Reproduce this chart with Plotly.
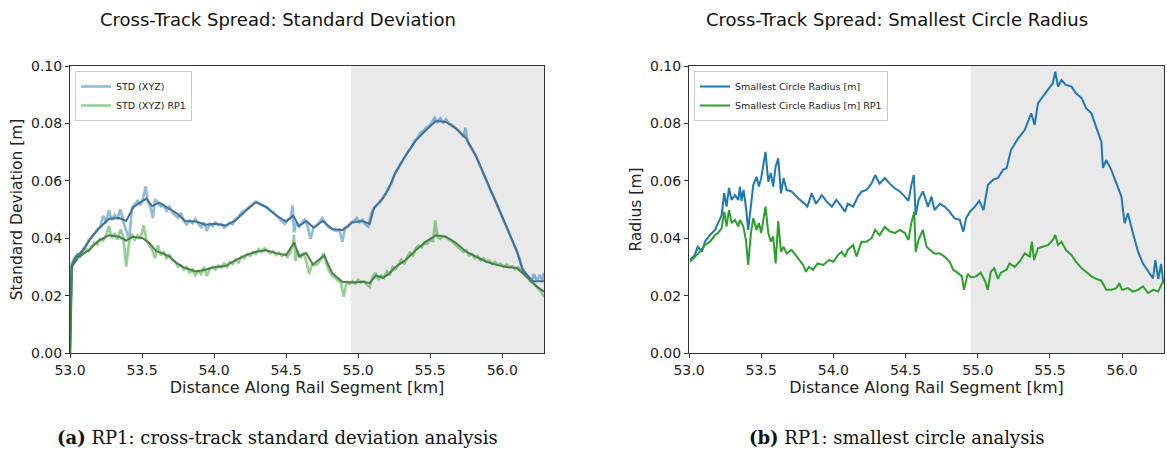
import plotly.graph_objects as go

# ---------------- DATA ----------------
# Left panel: raw cross-track standard deviation (light lines)
std_x = [53.0, 53.005, 53.012, 53.03, 53.05, 53.07, 53.09, 53.11, 53.13, 53.15, 53.17, 53.19, 53.21, 53.23, 53.25,
         53.27, 53.29, 53.31, 53.33, 53.35, 53.37, 53.39, 53.41, 53.43, 53.45, 53.47, 53.49, 53.51, 53.525, 53.54,
         53.56, 53.575, 53.59, 53.61, 53.63, 53.65, 53.67, 53.69, 53.71, 53.73, 53.75, 53.77, 53.79, 53.81, 53.83,
         53.85, 53.87, 53.89, 53.91, 53.93, 53.95, 53.97, 53.99, 54.01, 54.03, 54.05, 54.07, 54.09, 54.11, 54.13,
         54.15, 54.17, 54.19, 54.21, 54.23, 54.25, 54.27, 54.29, 54.31, 54.33, 54.35, 54.37, 54.39, 54.41, 54.43,
         54.45, 54.47, 54.49, 54.51, 54.53, 54.545, 54.555, 54.57, 54.59, 54.61, 54.63, 54.65, 54.67, 54.69, 54.71,
         54.73, 54.75, 54.77, 54.79, 54.81, 54.83, 54.85, 54.87, 54.89, 54.91, 54.93, 54.95, 54.97, 54.99, 55.01,
         55.03, 55.05, 55.07, 55.09, 55.11, 55.13, 55.15, 55.17, 55.19, 55.21, 55.23, 55.25, 55.27, 55.29, 55.31,
         55.33, 55.35, 55.37, 55.39, 55.41, 55.43, 55.45, 55.47, 55.49, 55.51, 55.53, 55.55, 55.57, 55.59, 55.61,
         55.63, 55.65, 55.67, 55.69, 55.71, 55.73, 55.745, 55.76, 55.78, 55.80, 55.82, 55.84, 55.86, 55.88, 55.90,
         55.92, 55.94, 55.96, 55.98, 56.00, 56.02, 56.04, 56.06, 56.08, 56.10, 56.12, 56.14, 56.16, 56.18, 56.20,
         56.22, 56.24, 56.26, 56.28, 56.29]
std_xyz = [0.0, 0.0210, 0.0310, 0.0330, 0.0345, 0.0338, 0.0362, 0.0372, 0.0395, 0.0400, 0.0418, 0.0432, 0.0440, 0.0478, 0.0452,
           0.0498, 0.0462, 0.0480, 0.0470, 0.0500, 0.0458, 0.0430, 0.0395, 0.0505, 0.0520, 0.0530, 0.0515, 0.0545, 0.0580, 0.0530,
           0.0505, 0.0470, 0.0535, 0.0525, 0.0510, 0.0515, 0.0495, 0.0510, 0.0490, 0.0480, 0.0472, 0.0488, 0.0460, 0.0448, 0.0462,
           0.0452, 0.0468, 0.0450, 0.0438, 0.0455, 0.0425, 0.0450, 0.0442, 0.0455, 0.0445, 0.0450, 0.0436, 0.0445, 0.0455, 0.0448,
           0.0468, 0.0475, 0.0490, 0.0495, 0.0505, 0.0512, 0.0520, 0.0528, 0.0522, 0.0515, 0.0510, 0.0505, 0.0495, 0.0490, 0.0480,
           0.0470, 0.0462, 0.0450, 0.0465, 0.0470, 0.0514, 0.0420, 0.0455, 0.0440, 0.0455, 0.0465, 0.0440, 0.0398, 0.0435, 0.0442,
           0.0455, 0.0470, 0.0455, 0.0440, 0.0435, 0.0428, 0.0425, 0.0430, 0.0388, 0.0435, 0.0440, 0.0455, 0.0460, 0.0470, 0.0455,
           0.0465, 0.0448, 0.0440, 0.0485, 0.0505, 0.0515, 0.0525, 0.0540, 0.0555, 0.0575, 0.0590, 0.0620, 0.0635, 0.0655, 0.0672,
           0.0690, 0.0705, 0.0718, 0.0738, 0.0748, 0.0765, 0.0772, 0.0785, 0.0790, 0.0802, 0.0820, 0.0805, 0.0818, 0.0802, 0.0815,
           0.0800, 0.0795, 0.0785, 0.0775, 0.0768, 0.0752, 0.0785, 0.0735, 0.0718, 0.0700, 0.0685, 0.0660, 0.0635, 0.0612, 0.0590,
           0.0565, 0.0545, 0.0520, 0.0500, 0.0475, 0.0450, 0.0428, 0.0405, 0.0380, 0.0358, 0.0330, 0.0295, 0.0270, 0.0262, 0.0245,
           0.0275, 0.0250, 0.0272, 0.0255, 0.0280]

std_rp1_x = [53.0, 53.005, 53.012, 53.03, 53.05, 53.07, 53.09, 53.11, 53.13, 53.15, 53.17, 53.19, 53.21, 53.23, 53.25,
             53.27, 53.29, 53.31, 53.33, 53.35, 53.37, 53.39, 53.41, 53.43, 53.45, 53.47, 53.49, 53.51, 53.53, 53.55,
             53.57, 53.59, 53.61, 53.63, 53.65, 53.67, 53.69, 53.71, 53.73, 53.75, 53.77, 53.79, 53.81, 53.83, 53.85,
             53.87, 53.89, 53.91, 53.93, 53.95, 53.97, 53.99, 54.01, 54.03, 54.05, 54.07, 54.09, 54.11, 54.13, 54.15,
             54.17, 54.19, 54.21, 54.23, 54.25, 54.27, 54.29, 54.31, 54.33, 54.35, 54.37, 54.39, 54.41, 54.43, 54.45,
             54.47, 54.49, 54.51, 54.53, 54.55, 54.555, 54.565, 54.58, 54.60, 54.62, 54.64, 54.66, 54.68, 54.70, 54.72,
             54.74, 54.76, 54.78, 54.80, 54.82, 54.84, 54.86, 54.88, 54.90, 54.92, 54.94, 54.96, 54.98, 55.00, 55.02,
             55.04, 55.06, 55.08, 55.10, 55.12, 55.14, 55.16, 55.18, 55.20, 55.22, 55.24, 55.26, 55.28, 55.30, 55.32,
             55.34, 55.36, 55.38, 55.40, 55.42, 55.44, 55.46, 55.48, 55.50, 55.52, 55.535, 55.55, 55.57, 55.59, 55.61,
             55.63, 55.65, 55.67, 55.69, 55.71, 55.73, 55.75, 55.77, 55.79, 55.81, 55.83, 55.85, 55.87, 55.89, 55.91,
             55.93, 55.95, 55.97, 55.99, 56.01, 56.03, 56.05, 56.07, 56.09, 56.11, 56.13, 56.15, 56.17, 56.19, 56.21,
             56.23, 56.25, 56.27, 56.29]
std_xyz_rp1 = [0.0, 0.0200, 0.0300, 0.0325, 0.0338, 0.0335, 0.0350, 0.0362, 0.0355, 0.0370, 0.0385, 0.0378, 0.0398, 0.0392, 0.0410,
               0.0442, 0.0400, 0.0418, 0.0395, 0.0430, 0.0405, 0.0300, 0.0385, 0.0415, 0.0395, 0.0410, 0.0398, 0.0445, 0.0395, 0.0375,
               0.0360, 0.0330, 0.0375, 0.0340, 0.0355, 0.0328, 0.0342, 0.0325, 0.0318, 0.0300, 0.0305, 0.0290, 0.0300, 0.0280, 0.0290,
               0.0270, 0.0285, 0.0275, 0.0300, 0.0268, 0.0295, 0.0300, 0.0290, 0.0305, 0.0298, 0.0312, 0.0300, 0.0318, 0.0310, 0.0325,
               0.0315, 0.0335, 0.0330, 0.0345, 0.0338, 0.0352, 0.0345, 0.0362, 0.0352, 0.0365, 0.0355, 0.0348, 0.0355, 0.0342, 0.0350,
               0.0338, 0.0345, 0.0335, 0.0350, 0.0385, 0.0412, 0.0320, 0.0355, 0.0330, 0.0350, 0.0320, 0.0275, 0.0310, 0.0305, 0.0312,
               0.0325, 0.0348, 0.0310, 0.0285, 0.0270, 0.0262, 0.0255, 0.0245, 0.0196, 0.0250, 0.0240, 0.0250, 0.0242, 0.0255, 0.0245,
               0.0250, 0.0238, 0.0230, 0.0265, 0.0280, 0.0255, 0.0270, 0.0262, 0.0285, 0.0275, 0.0300, 0.0292, 0.0310, 0.0325, 0.0310,
               0.0335, 0.0350, 0.0340, 0.0365, 0.0375, 0.0368, 0.0385, 0.0380, 0.0395, 0.0390, 0.0462, 0.0405, 0.0398, 0.0408, 0.0400,
               0.0395, 0.0390, 0.0378, 0.0370, 0.0362, 0.0352, 0.0358, 0.0340, 0.0345, 0.0330, 0.0338, 0.0322, 0.0330, 0.0318, 0.0322,
               0.0310, 0.0318, 0.0308, 0.0312, 0.0300, 0.0308, 0.0298, 0.0302, 0.0292, 0.0298, 0.0288, 0.0275, 0.0268, 0.0255, 0.0248,
               0.0238, 0.0225, 0.0215, 0.0195]

# Left panel: smoothed overlays (dark lines)
std_smooth_x = [53.0, 53.005, 53.012, 53.04, 53.09, 53.15, 53.20, 53.27, 53.34, 53.39, 53.44, 53.48, 53.53, 53.57, 53.62,
                53.67, 53.74, 53.80, 53.875, 53.94, 54.01, 54.08, 54.15, 54.22, 54.29, 54.36, 54.43, 54.50, 54.55, 54.59,
                54.64, 54.69, 54.755, 54.82, 54.89, 54.96, 55.03, 55.08, 55.11, 55.17, 55.21, 55.26, 55.33, 55.40, 55.47,
                55.54, 55.61, 55.68, 55.75, 55.82, 55.89, 55.96, 56.03, 56.10, 56.14, 56.21, 56.29]
std_smooth = [0.0, 0.0200, 0.0305, 0.0334, 0.0358, 0.0405, 0.0433, 0.0468, 0.0470, 0.0460, 0.0508, 0.0522, 0.0538, 0.0512, 0.0524,
              0.0508, 0.0487, 0.0460, 0.0458, 0.0447, 0.0450, 0.0444, 0.0462, 0.0496, 0.0525, 0.0510, 0.0480, 0.0458, 0.0478, 0.0442,
              0.0460, 0.0437, 0.0460, 0.0432, 0.0428, 0.0455, 0.0460, 0.0450, 0.0505, 0.0538, 0.0570, 0.0630, 0.0688, 0.0740, 0.0776,
              0.0808, 0.0805, 0.0782, 0.0748, 0.0684, 0.0603, 0.0522, 0.0435, 0.0358, 0.0292, 0.0250, 0.0250]

std_rp1_smooth_x = [53.0, 53.005, 53.012, 53.06, 53.13, 53.20, 53.27, 53.34, 53.39, 53.435, 53.505, 53.55, 53.60, 53.64, 53.69,
                    53.74, 53.80, 53.875, 53.94, 54.01, 54.08, 54.15, 54.22, 54.29, 54.36, 54.43, 54.50, 54.556, 54.59, 54.64,
                    54.686, 54.764, 54.82, 54.89, 54.96, 55.03, 55.08, 55.125, 55.17, 55.21, 55.26, 55.33, 55.40, 55.47, 55.54,
                    55.61, 55.68, 55.75, 55.82, 55.89, 55.96, 56.03, 56.10, 56.17, 56.24, 56.29]
std_rp1_smooth = [0.0, 0.0195, 0.0300, 0.0335, 0.0358, 0.0392, 0.0410, 0.0405, 0.0392, 0.0405, 0.0400, 0.0383, 0.0354, 0.0348, 0.0336,
                  0.0313, 0.0296, 0.0284, 0.0290, 0.0300, 0.0303, 0.0324, 0.0341, 0.0353, 0.0358, 0.0348, 0.0341, 0.0385, 0.0337, 0.0348,
                  0.0308, 0.0340, 0.0278, 0.0248, 0.0246, 0.0248, 0.0244, 0.0270, 0.0262, 0.0274, 0.0300, 0.0324, 0.0358, 0.0388, 0.0410,
                  0.0405, 0.0383, 0.0353, 0.0336, 0.0318, 0.0307, 0.0300, 0.0296, 0.0266, 0.0231, 0.0214]

# Right panel: smallest circle radius
rad_x = [53.007, 53.04, 53.06, 53.09, 53.11, 53.145, 53.18, 53.2, 53.226, 53.244, 53.26, 53.277, 53.295, 53.318, 53.341,
         53.353, 53.364, 53.378, 53.394, 53.41, 53.429, 53.445, 53.468, 53.484, 53.5, 53.514, 53.53, 53.549, 53.567, 53.583,
         53.6, 53.618, 53.637, 53.655, 53.676, 53.71, 53.756, 53.8, 53.82, 53.85, 53.88, 53.92, 53.95, 53.99, 54.02,
         54.057, 54.08, 54.10, 54.137, 54.17, 54.195, 54.23, 54.264, 54.29, 54.32, 54.356, 54.39, 54.425, 54.46, 54.495,
         54.52, 54.54, 54.557, 54.57, 54.59, 54.62, 54.656, 54.68, 54.70, 54.737, 54.77, 54.806, 54.84, 54.875, 54.90,
         54.92, 54.945, 54.98, 55.01, 55.04, 55.07, 55.105, 55.14, 55.175, 55.2, 55.23, 55.28, 55.325, 55.37, 55.394,
         55.417, 55.45, 55.487, 55.52, 55.537, 55.556, 55.58, 55.61, 55.65, 55.68, 55.72, 55.75, 55.787, 55.82, 55.856,
         55.867, 55.89, 55.925, 55.96, 55.995, 56.017, 56.04, 56.075, 56.11, 56.144, 56.18, 56.214, 56.23, 56.25, 56.27,
         56.285]
radius = [0.0324, 0.0341, 0.0370, 0.0353, 0.0388, 0.0411, 0.0429, 0.0453, 0.0480, 0.0557, 0.0510, 0.0575, 0.0533, 0.0550, 0.0533,
          0.0580, 0.0530, 0.0568, 0.0510, 0.0429, 0.0510, 0.0585, 0.0614, 0.0580, 0.0610, 0.0649, 0.0701, 0.0597, 0.0627, 0.0580,
          0.0649, 0.0678, 0.0556, 0.0610, 0.0568, 0.0563, 0.0539, 0.0520, 0.0510, 0.0556, 0.0520, 0.0550, 0.0530, 0.0510, 0.0533,
          0.0510, 0.0492, 0.0520, 0.0510, 0.0545, 0.0562, 0.0568, 0.0591, 0.0620, 0.0590, 0.0610, 0.0590, 0.0574, 0.0563, 0.0545,
          0.0530, 0.0585, 0.0620, 0.0480, 0.0533, 0.0563, 0.0510, 0.0545, 0.0498, 0.0520, 0.0510, 0.0492, 0.0469, 0.0464, 0.0423,
          0.0470, 0.0492, 0.0510, 0.0530, 0.0498, 0.0585, 0.0603, 0.0610, 0.0638, 0.0644, 0.0707, 0.0748, 0.0777, 0.0835, 0.0795,
          0.0870, 0.0893, 0.0916, 0.0940, 0.0980, 0.0928, 0.0951, 0.0934, 0.0928, 0.0905, 0.0888, 0.0853, 0.0835, 0.0789, 0.0736,
          0.0645, 0.0672, 0.0638, 0.0591, 0.0545, 0.0452, 0.0487, 0.0417, 0.0353, 0.0312, 0.0283, 0.0260, 0.0324, 0.0258, 0.0310,
          0.0243]

rad_rp1_x = [53.007, 53.04, 53.076, 53.11, 53.145, 53.18, 53.2, 53.226, 53.244, 53.26, 53.277, 53.295, 53.318, 53.341, 53.353,
             53.376, 53.394, 53.41, 53.429, 53.445, 53.468, 53.484, 53.5, 53.53, 53.549, 53.567, 53.583, 53.6, 53.618, 53.637,
             53.655, 53.676, 53.71, 53.756, 53.79, 53.81, 53.83, 53.86, 53.89, 53.93, 53.97, 54.0, 54.03, 54.057, 54.08,
             54.10, 54.137, 54.16, 54.195, 54.23, 54.264, 54.29, 54.32, 54.356, 54.39, 54.425, 54.46, 54.495, 54.52, 54.54,
             54.56, 54.57, 54.59, 54.62, 54.645, 54.67, 54.70, 54.737, 54.77, 54.806, 54.83, 54.86, 54.89, 54.905, 54.93,
             54.955, 54.99, 55.02, 55.05, 55.07, 55.09, 55.115, 55.14, 55.16, 55.2, 55.22, 55.256, 55.29, 55.325, 55.36,
             55.375, 55.39, 55.417, 55.45, 55.487, 55.52, 55.537, 55.556, 55.58, 55.61, 55.65, 55.68, 55.72, 55.75, 55.787,
             55.82, 55.856, 55.89, 55.925, 55.96, 55.98, 56.0, 56.04, 56.075, 56.11, 56.144, 56.18, 56.214, 56.25, 56.285]
radius_rp1 = [0.0318, 0.0336, 0.0353, 0.0376, 0.0388, 0.0410, 0.0418, 0.0434, 0.0492, 0.0441, 0.0498, 0.0453, 0.0464, 0.0441, 0.0464,
              0.0441, 0.0394, 0.0307, 0.0418, 0.0470, 0.0429, 0.0453, 0.0418, 0.0510, 0.0418, 0.0388, 0.0406, 0.0312, 0.0460, 0.0353,
              0.0370, 0.0347, 0.0359, 0.0330, 0.0307, 0.0283, 0.0300, 0.0290, 0.0312, 0.0307, 0.0324, 0.0318, 0.0340, 0.0353, 0.0336,
              0.0359, 0.0376, 0.0336, 0.0388, 0.0388, 0.0400, 0.0429, 0.0410, 0.0440, 0.0424, 0.0418, 0.0429, 0.0418, 0.0394, 0.0453,
              0.0492, 0.0353, 0.0394, 0.0429, 0.0370, 0.0359, 0.0347, 0.0347, 0.0336, 0.0318, 0.0290, 0.0280, 0.0267, 0.0220, 0.0275,
              0.0263, 0.0267, 0.0280, 0.0252, 0.0220, 0.0283, 0.0295, 0.0258, 0.0280, 0.0290, 0.0312, 0.0300, 0.0318, 0.0347, 0.0336,
              0.0388, 0.0324, 0.0365, 0.0370, 0.0376, 0.0394, 0.0411, 0.0376, 0.0388, 0.0359, 0.0341, 0.0318, 0.0295, 0.0283, 0.0267,
              0.0258, 0.0252, 0.0220, 0.0220, 0.0226, 0.0243, 0.0220, 0.0226, 0.0214, 0.0220, 0.0232, 0.0209, 0.0220, 0.0214, 0.0252]

# Axis / region settings
x_range = [53.0, 56.29]
y_range = [0.0, 0.10]
highlight_start = 54.95

titles = ["Cross-Track Spread: Standard Deviation", "Cross-Track Spread: Smallest Circle Radius"]
y_titles = ["Standard Deviation [m]", "Radius [m]"]
x_title = "Distance Along Rail Segment [km]"
captions = ["<b>(a)</b> RP1: cross-track standard deviation analysis",
            "<b>(b)</b> RP1: smallest circle analysis"]

# ---------------- FIGURE ----------------
W, H = 1167, 449
BLUE = "#1f77b4"
GREEN = "#2ca02c"
FONT = "DejaVu Sans"

fig = go.Figure()

# left panel
fig.add_trace(go.Scatter(x=std_x, y=std_xyz, mode="lines", name="STD (XYZ)",
                         line=dict(color="rgba(31,119,180,0.5)", width=2.6), legend="legend",
                         xaxis="x", yaxis="y"))
fig.add_trace(go.Scatter(x=std_rp1_x, y=std_xyz_rp1, mode="lines", name="STD (XYZ) RP1",
                         line=dict(color="rgba(44,160,44,0.5)", width=2.6), legend="legend",
                         xaxis="x", yaxis="y"))
fig.add_trace(go.Scatter(x=std_smooth_x, y=std_smooth, mode="lines", showlegend=False,
                         line=dict(color="rgb(66,112,150)", width=2), xaxis="x", yaxis="y"))
fig.add_trace(go.Scatter(x=std_rp1_smooth_x, y=std_rp1_smooth, mode="lines", showlegend=False,
                         line=dict(color="rgb(72,128,72)", width=2), xaxis="x", yaxis="y"))

# right panel
fig.add_trace(go.Scatter(x=rad_x, y=radius, mode="lines", name="Smallest Circle Radius [m]",
                         line=dict(color=BLUE, width=2), legend="legend2", xaxis="x2", yaxis="y2"))
fig.add_trace(go.Scatter(x=rad_rp1_x, y=radius_rp1, mode="lines", name="Smallest Circle Radius [m] RP1",
                         line=dict(color=GREEN, width=2), legend="legend2", xaxis="x2", yaxis="y2"))

x_dom = [[70 / W, 544 / W], [689 / W, 1164 / W]]
y_dom = [1 - 353 / H, 1 - 66 / H]

axis_common = dict(showline=True, mirror=True, linecolor="#333", linewidth=1, ticks="outside",
                   ticklen=4, tickwidth=1, tickcolor="#333", showgrid=False, zeroline=False,
                   tickfont=dict(family=FONT, size=14, color="#222"), automargin=False)

for i, (xa, ya) in enumerate([("xaxis", "yaxis"), ("xaxis2", "yaxis2")]):
    anchor_x = "y" if i == 0 else "y2"
    anchor_y = "x" if i == 0 else "x2"
    fig.update_layout({
        xa: dict(domain=x_dom[i], range=x_range, anchor=anchor_x, dtick=0.5, tick0=53.0, tickformat=".1f",
                 title=dict(text=x_title, font=dict(family=FONT, size=16, color="#222"), standoff=2),
                 **axis_common),
        ya: dict(domain=y_dom, range=y_range, anchor=anchor_y, dtick=0.02, tickformat=".2f",
                 title=dict(text=y_titles[i], font=dict(family=FONT, size=15.5, color="#222"), standoff=4),
                 **axis_common),
    })
    # shaded region
    fig.add_shape(type="rect", xref="x" if i == 0 else "x2", yref="y domain" if i == 0 else "y2 domain",
                  x0=highlight_start, x1=x_range[1], y0=0, y1=1, fillcolor="#e9e9e9", line_width=0, layer="below")

# titles
fig.add_annotation(text=titles[0], x=278 / W, y=1 - 20 / H, xref="paper", yref="paper", showarrow=False,
                   font=dict(family=FONT, size=18, color="#111"), xanchor="center", yanchor="middle")
fig.add_annotation(text=titles[1], x=897 / W, y=1 - 20 / H, xref="paper", yref="paper", showarrow=False,
                   font=dict(family=FONT, size=18, color="#111"), xanchor="center", yanchor="middle")

# captions
fig.add_annotation(text=captions[0], x=277 / W, y=1 - 437 / H, xref="paper", yref="paper", showarrow=False,
                   font=dict(family="DejaVu Serif", size=18, color="#111"), xanchor="center", yanchor="middle")
fig.add_annotation(text=captions[1], x=897 / W, y=1 - 437 / H, xref="paper", yref="paper", showarrow=False,
                   font=dict(family="DejaVu Serif", size=18, color="#111"), xanchor="center", yanchor="middle")

legend_common = dict(bgcolor="rgba(255,255,255,0.85)", bordercolor="#cccccc", borderwidth=1,
                     font=dict(family=FONT, size=9.5, color="#222"), xanchor="left", yanchor="top",
                     itemwidth=30, tracegroupgap=0, xref="paper", yref="paper")
fig.update_layout(
    width=W, height=H,
    margin=dict(l=0, r=0, t=0, b=0),
    paper_bgcolor="white", plot_bgcolor="white",
    showlegend=True,
    legend=dict(x=75 / W, y=1 - 71 / H, **legend_common),
    legend2=dict(x=694 / W, y=1 - 71 / H, **legend_common),
)

fig.write_html("out.html")
